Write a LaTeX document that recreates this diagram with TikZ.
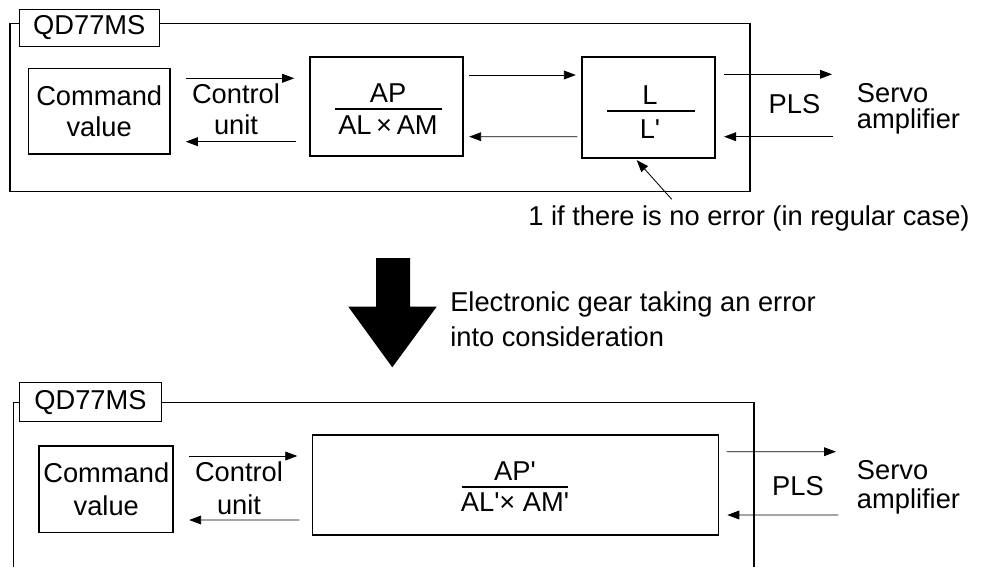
\documentclass[tikz,border=0pt]{standalone}
\usepackage{fontspec}
\setmainfont{Liberation Sans}
\usetikzlibrary{arrows.meta,calc,positioning}
\newcommand{\sq}{\textquotesingle}

\begin{document}
\begin{tikzpicture}[
    x=0.025cm, y=-0.025cm,
    box/.style={rectangle, draw=black, line width=1.2pt, inner sep=0pt, align=center, font=\fontsize{19.4}{22.5}\selectfont},
    tag/.style={rectangle, draw=black, line width=0.7pt, fill=white, inner sep=0pt, font=\fontsize{19.4}{22}\selectfont},
    txt/.style={inner sep=0pt, align=center, font=\fontsize{19.4}{22.5}\selectfont},
    bar/.style={rectangle, fill=black, inner sep=0pt, minimum height=0.05cm},
    arrow/.style={->, >={Stealth[inset=0pt, length=0.3cm, width=0.22cm]}, line width=0.6pt},
    frame/.style={line width=1.1pt}
]
\useasboundingbox (0,0) rectangle (988,567);

% Upper unit: gear without error
\draw[frame] (10,23.3) rectangle (750,191.7);
\node[tag, minimum width=3.5cm, minimum height=0.94cm] (qdA) at (89.3,27.8) {QD77MS};

\node[box, minimum width=3.54cm, minimum height=2.14cm] (cmdA) at (99.2,111.2) {Command\\value};
\node[txt] (ctrlA) at (236,109.4) {Control\\unit};

\node[box, minimum width=3.83cm, minimum height=2.48cm] (apA) at (386.7,106.3) {};
\node[txt, anchor=base] (apnumA) at (388,102) {AP};
\node[bar, minimum width=2.67cm] (apbarA) at (388.3,108.8) {};
\node[txt, anchor=base] (apdenA) at (388,134.5) {AL\kern.17em×\kern.17em AM};

\node[box, minimum width=3.33cm, minimum height=2.525cm] (lA) at (648.3,107.8) {};
\node[txt, anchor=base] (lnumA) at (650,104.3) {L};
\node[bar, minimum width=2.21cm] (lbarA) at (651,110.7) {};
\node[txt, anchor=base] (ldenA) at (650,138.3) {L\sq};

\node[txt, anchor=base] (plsA) at (794.5,113.3) {PLS};
\node[txt, anchor=west, align=left, font=\fontsize{19.4}{19}\selectfont] (servoA) at (856.7,108.7) {Servo\\amplifier};
\node[txt, anchor=base] (noteA) at (749,225) {1 if there is no error (in regular case)};

% Upper connectors
\draw[arrow] ($(cmdA.east)+(15,-32.9)$) -- ($(apA.west)+(-15,-28)$);
\draw[arrow] ($(apA.west)+(-13.3,35.4)$) -- ($(cmdA.east)+(15,30.5)$);
\draw[arrow] ($(apA.east)+(5,-31.3)$) -- ($(lA.west)+(-5,-32.8)$);
\draw[arrow] ($(lA.west)+(-3.4,28.9)$) -- ($(apA.east)+(5,30.4)$);
\draw[arrow] ($(lA.east)+(8.3,-33.5)$) -- ($(servoA.west)+(-24.7,-34.4)$);
\draw[arrow] ($(servoA.west)+(-23.4,28)$) -- ($(lA.east)+(8.3,28.9)$);
\draw[arrow] ($(noteA.base)+(-77.3,-25.7)$) -- ($(lA.south)+(-11.6,1)$);

% Transition
\fill (376,258) -- (410,258) -- (410,306.7) -- (436.7,306.7) -- (392.3,367.3) -- (348.3,306.7) -- (376,306.7) -- cycle;
\node[txt, anchor=west, align=left, font=\fontsize{19.4}{24.9}\selectfont] (gearnote) at (450,319) {Electronic gear taking an error\\into consideration};

% Lower unit: gear taking error into account
\draw[frame] (13.3,567) -- (13.3,402.7) -- (754,402.7) -- (754,567);
\node[tag, minimum width=3.56cm, minimum height=0.975cm] (qdB) at (90.5,402.2) {QD77MS};

\node[box, minimum width=3.35cm, minimum height=2.16cm, font=\fontsize{19.4}{23.7}\selectfont] (cmdB) at (106.3,489.2) {Command\\value};
\node[txt, font=\fontsize{19.4}{23.7}\selectfont] (ctrlB) at (239,488.3) {Control\\unit};

\node[box, minimum width=10.14cm, minimum height=2.5cm, line width=0.9pt] (apB) at (515.5,485) {};
\node[txt, anchor=base] (apnumB) at (515,480) {AP\sq};
\node[bar, minimum width=2.67cm] (apbarB) at (515,487.3) {};
\node[txt, anchor=base] (apdenB) at (515,511.7) {AL\sq× AM\sq};

\node[txt, anchor=base] (plsB) at (798,495.7) {PLS};
\node[txt, anchor=west, align=left, font=\fontsize{19.4}{20}\selectfont] (servoB) at (856.7,487.3) {Servo\\amplifier};

% Lower connectors
\draw[arrow] ($(cmdB.east)+(15,-33.2)$) -- ($(apB.west)+(-14.7,-29)$);
\draw[arrow] ($(apB.west)+(-12.7,35)$) -- ($(cmdB.east)+(15,30.8)$);
\draw[arrow] ($(apB.east)+(7.7,-33.3)$) -- ($(servoB.west)+(-20.7,-35.6)$);
\draw[arrow] ($(servoB.west)+(-18.4,27.7)$) -- ($(apB.east)+(8.4,30)$);

\end{tikzpicture}
\end{document}
